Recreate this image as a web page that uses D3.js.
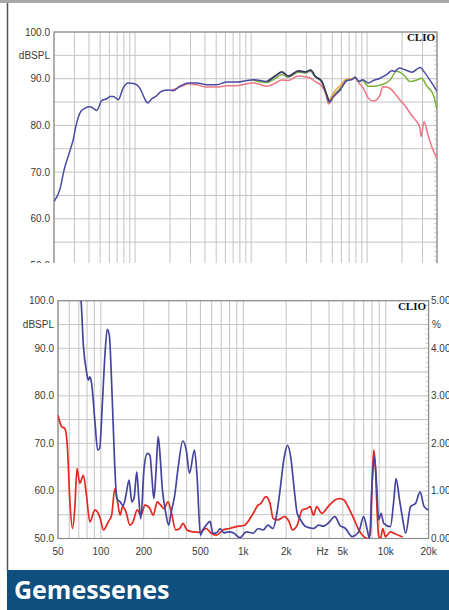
<!DOCTYPE html>
<html>
<head>
<meta charset="utf-8">
<script src="https://cdn.jsdelivr.net/npm/d3@7"></script>
<style>
  body { margin: 0; background: #fff; }
  svg { display: block; }
  text { font-family: "Liberation Sans", Arial, sans-serif; }
</style>
</head>
<body>
<div id="chart"></div>
<script>
// top chart: frequency response [Hz, dBSPL]
const topBlue = [[20,63.7],[22.6,66.5],[24.4,70.4],[27,74],[29.3,77],[31,80],[33.5,82.7],[37,83.7],[40.9,84.0],[44,83.6],[46.7,83.2],[51.5,85.3],[56.9,85.7],[61,86.2],[65,86.2],[71.6,85.5],[78.8,88.0],[87,89.1],[99,88.9],[110,88.0],[120,85.9],[128,84.8],[139,85.7],[151,86.2],[169,87.3],[193,87.6],[213,87.4],[243,88.4],[289,89.1],[339,89.1],[413,88.7],[505,88.7],[617,89.3],[750,89.3],[915,89.6],[1045,89.8],[1365,89.4],[1608,90.5],[1837,91.4],[2095,90.5],[2555,91.6],[2917,91.4],[3265,91.8],[3557,90.5],[4063,89.4],[4424,86.9],[4725,85.0],[5116,86.2],[5845,87.6],[6676,89.6],[7370,89.8],[7870,90.3],[8480,89.4],[9150,89.8],[10200,89.1],[11320,89.6],[12920,90.1],[14760,90.9],[16300,91.7],[17360,91.6],[18970,92.3],[21230,91.9],[24260,91.4],[28600,92.4],[31560,91.2],[36040,89.1],[40000,87.3]];
const topDark = [[1365,89.4],[1608,90.6],[1837,91.5],[2095,90.6],[2555,91.7],[2917,91.5],[3265,91.9],[3557,90.6],[4063,89.5],[4424,87.0],[4725,85.1]];
const topOrange = [[4725,85.3],[5116,86.9],[5845,88.5],[6676,89.9],[7370,90.0]];
const topGreen = [[1000,89.8],[1365,89.2],[1608,90.0],[1837,90.9],[2095,90.3],[2555,91.4],[2917,91.2],[3265,91.6],[3557,90.4],[4063,89.3],[4424,86.8],[4725,85.0],[5116,86.3],[5845,87.9],[6676,89.6],[7370,89.8],[7870,90.3],[8480,89.4],[9150,89.6],[10200,88.4],[11320,88.4],[12920,88.6],[15760,89.7],[17900,91.6],[20500,90.9],[23400,89.4],[26700,89.7],[29500,90.1],[32700,88.4],[37100,86.6],[40000,83.5]];
const topPink = [[200,87.5],[243,88.2],[289,88.9],[339,88.7],[413,88.2],[505,88.2],[617,88.5],[750,88.5],[1045,89.1],[1365,88.4],[1608,89.0],[1837,89.7],[2095,89.6],[2555,90.6],[2917,90.4],[3265,90.1],[3557,89.4],[4063,88.4],[4424,86.5],[4650,84.6],[5116,86.0],[5845,87.6],[6676,89.6],[7370,90.0],[7870,90.1],[8480,89.1],[9150,88.2],[10200,85.9],[11320,85.2],[12920,86.5],[13600,88.3],[14760,88.2],[16300,87.6],[17360,86.8],[19230,85.4],[21230,84.2],[23500,82.6],[26700,80.8],[28500,79.5],[29180,77.6],[30950,80.8],[33500,77.9],[36000,75.5],[40000,72.9]];

// bottom chart: distortion, on the dBSPL scale (right axis % = (dB-50)/10)
const botBlue = [[62,108],[68,103],[72.5,100],[75.3,90.7],[79.2,85.1],[81.6,83.3],[83.7,84.0],[86.1,82.6],[90.9,74.5],[94.9,68.6],[98,68.9],[102.3,78.1],[106.8,88.6],[110.8,94.0],[114.5,92.8],[119.9,80.2],[124.8,66.1],[129.4,58.4],[136.5,57.7],[143.6,56.9],[150,59.1],[157.8,62.3],[164.8,57.7],[171,58.5],[178.8,64.0],[184,59],[190.7,54.1],[200.9,64.7],[211.9,67.9],[221.2,67.5],[228,63],[235.4,58.4],[243.1,63.3],[252.3,71.4],[258,69],[270,60.5],[284.8,55.6],[299,52.8],[312,55.6],[330,59.1],[348,64.7],[376,70.5],[397.5,68.6],[419,63.7],[454,68.6],[473,63.3],[500,50.7],[520,51.8],[548,52.8],[585,53.6],[610,51.1],[650,51.2],[687,52.1],[730,51.2],[784,51.4],[850,51.2],[947,50.2],[1050,51.4],[1174,51.1],[1270,52.1],[1380,51.8],[1490,52.8],[1616,52.1],[1705,54.6],[1800,59.5],[1940,67.2],[2045,69.6],[2160,66.8],[2280,60.2],[2390,55.3],[2527,53.9],[2740,52.5],[3110,52.1],[3377,52.8],[3650,52.6],[3940,53.2],[4400,54.6],[4760,52.8],[5220,52.1],[5810,50.4],[6470,51.4],[7000,54.6],[7380,52.1],[7700,50.0],[8020,61.6],[8320,67.2],[8600,62],[8930,53.9],[9270,55.3],[9680,53.2],[10790,52.5],[11400,58.1],[11820,62.6],[12500,58.1],[13070,54.6],[13800,51.1],[14940,56.7],[16210,57.4],[17420,59.8],[18600,56.7],[20000,56.0]];
const botRed = [[50,75.9],[53.1,73.5],[55.9,73.1],[58.1,69.6],[60.6,57.7],[63.2,52.1],[65.6,56.3],[68,64.7],[71.1,61.6],[75.3,63.3],[79.2,59.1],[83.7,53.5],[90.9,56.0],[98,54.6],[104.4,51.8],[112.6,53.5],[119,54.9],[125.3,60.5],[131,57.7],[136.5,54.9],[142,56.7],[150,55.6],[160,52.8],[168,53.5],[180,56.0],[191,54.9],[204,57.0],[221,56.3],[233,54.9],[249,57.7],[263,57.0],[277,56.3],[296,57.7],[312,55.6],[335,51.8],[358,52.1],[377,53.2],[402,51.8],[443,51.4],[496,51.3],[548,52.1],[595,51.1],[648,50.7],[719,51.8],[800,52.1],[890,52.5],[1020,52.8],[1174,55.3],[1270,57.0],[1330,57.4],[1440,58.8],[1540,57.4],[1620,54.2],[1748,53.9],[1940,54.6],[2100,53.5],[2210,51.8],[2390,52.8],[2590,56.0],[2800,56.3],[2950,56.7],[3110,54.9],[3280,56.7],[3550,55.3],[3940,56.7],[4400,58.1],[4760,58.4],[5090,58.1],[5520,56.3],[5970,54.2],[6470,51.8],[7000,50.4],[7480,50.0],[7800,51.1],[8020,61.6],[8240,68.6],[8460,65.1],[8690,56.0],[8930,50.4],[9200,50.1],[9540,52.1],[9950,50.4],[10790,51.4],[11600,51.0],[13160,50.3]];

const yTickLabels = ["100.0", "90.0", "80.0", "70.0", "60.0", "50.0"];
const pctLabels = ["5.00", "4.00", "3.00", "2.00", "1.00", "0.00"];
const freqTicks = [50, 100, 200, 500, 1000, 2000, 5000, 10000, 20000];
const freqLabels = ["50", "100", "200", "500", "1k", "2k", "5k", "10k", "20k"];

const W = 449, H = 610;
const svg = d3.select("#chart").append("svg").attr("width", W).attr("height", H);

// page frame
svg.append("rect").attr("x", 0).attr("y", 0).attr("width", W).attr("height", 3).attr("fill", "#a8a8a8");
svg.append("line").attr("x1", 7.5).attr("x2", 7.5).attr("y1", 3).attr("y2", 571)
    .attr("stroke", "#555").attr("stroke-width", 1.5);
svg.append("rect").attr("x", 7).attr("y", 570).attr("width", W - 7).attr("height", 40).attr("fill", "#0e4f7e");
svg.append("text").attr("x", 14).attr("y", 599).text("Gemessenes")
    .style("font-family", "'Open Sans', sans-serif").style("font-weight", 700)
    .style("font-size", "25px").attr("fill", "#fff");

function drawChart(g, x, y, opts) {
    const [x0, x1] = x.range();
    const [yb, yt] = y.range();

    // grid
    g.append("g").selectAll("line").data(x.ticks()).join("line")
        .attr("x1", d => x(d)).attr("x2", d => x(d)).attr("y1", yt).attr("y2", yb)
        .attr("stroke", "#c4c4c4").attr("stroke-width", 1);
    g.append("g").selectAll("line").data(d3.range(50, 101, 5)).join("line")
        .attr("x1", x0).attr("x2", x1).attr("y1", d => y(d)).attr("y2", d => y(d))
        .attr("stroke", "#c4c4c4").attr("stroke-width", 1);

    // minor ticks on right edge
    g.append("g").selectAll("line").data(d3.range(50, 101, 1)).join("line")
        .attr("x1", x1 - 3).attr("x2", x1).attr("y1", d => y(d)).attr("y2", d => y(d))
        .attr("stroke", "#bbb").attr("stroke-width", 0.7);

    g.append("rect").attr("x", x0).attr("y", yt).attr("width", x1 - x0).attr("height", yb - yt)
        .attr("fill", "none").attr("stroke", "#8c8c8c").attr("stroke-width", 1.2);

    // left axis labels
    g.append("g").selectAll("text").data(yTickLabels).join("text")
        .attr("x", x0 - 4).attr("y", (d, i) => y(100 - i * 10) + 3.5)
        .attr("text-anchor", "end").style("font-size", "10px").attr("fill", "#3a3a3a")
        .text(d => d);
    g.append("text").attr("x", x0 - 4).attr("y", y(95) + 3.5).attr("text-anchor", "end")
        .style("font-size", "10px").attr("fill", "#3a3a3a").text("dBSPL");

    g.append("text").attr("x", opts.clioX).attr("y", yt + 9)
        .attr("text-anchor", "end").style("font-family", "'Liberation Serif', serif")
        .style("font-weight", 700).style("font-size", "11px").attr("fill", "#111").text("CLIO");

    const clipId = opts.id + "-plot";
    g.append("clipPath").attr("id", clipId).append("rect")
        .attr("x", x0).attr("y", yt).attr("width", x1 - x0).attr("height", yb - yt);

    const line = d3.line().x(d => x(d[0])).y(d => y(d[1])).curve(d3.curveMonotoneX);
    const lines = g.append("g").attr("clip-path", `url(#${clipId})`);
    for (const s of opts.series) {
        lines.append("path").datum(s.data).attr("d", line)
            .attr("fill", "none").attr("stroke", s.color).attr("stroke-width", s.width || 1.5)
            .attr("stroke-linejoin", "round");
    }
}

// top chart, cropped at its bottom like the original
svg.append("clipPath").attr("id", "topcrop").append("rect")
    .attr("x", 0).attr("y", 0).attr("width", W).attr("height", 263);
const gTop = svg.append("g").attr("clip-path", "url(#topcrop)");
const xTop = d3.scaleLog().domain([20, 40000]).range([54, 437]);
const yTop = d3.scaleLinear().domain([50, 100]).range([265.5, 32]);
drawChart(gTop, xTop, yTop, {
    id: "top", clioX: 435,
    series: [
        { data: topPink, color: "#ee7585" },
        { data: topGreen, color: "#7ab136" },
        { data: topOrange, color: "#e8a548" },
        { data: topBlue, color: "#4b4ba3" },
        { data: topDark, color: "#3a3d55", width: 1.4 }
    ]
});

// bottom chart
const gBot = svg.append("g");
const xBot = d3.scaleLog().domain([50, 20000]).range([58, 428.6]);
const yBot = d3.scaleLinear().domain([50, 100]).range([538.5, 300.7]);
drawChart(gBot, xBot, yBot, {
    id: "bot", clioX: 426,
    series: [
        { data: botRed, color: "#e2281f", width: 1.7 },
        { data: botBlue, color: "#4545a0", width: 1.7 }
    ]
});

// right % axis
gBot.append("g").selectAll("text").data(pctLabels).join("text")
    .attr("x", 431).attr("y", (d, i) => yBot(100 - i * 10) + 3.5)
    .style("font-size", "10px").attr("fill", "#3a3a3a").text(d => d);
gBot.append("text").attr("x", 432).attr("y", yBot(95) + 3.5)
    .style("font-size", "10px").attr("fill", "#3a3a3a").text("%");

// frequency labels
gBot.append("g").selectAll("text").data(freqTicks).join("text")
    .attr("x", d => xBot(d)).attr("y", 555).attr("text-anchor", "middle")
    .style("font-size", "10px").attr("fill", "#3a3a3a")
    .text((d, i) => freqLabels[i]);
gBot.append("text").attr("x", xBot(3600)).attr("y", 555).attr("text-anchor", "middle")
    .style("font-size", "10px").attr("fill", "#3a3a3a").text("Hz");
</script>
</body>
</html>
